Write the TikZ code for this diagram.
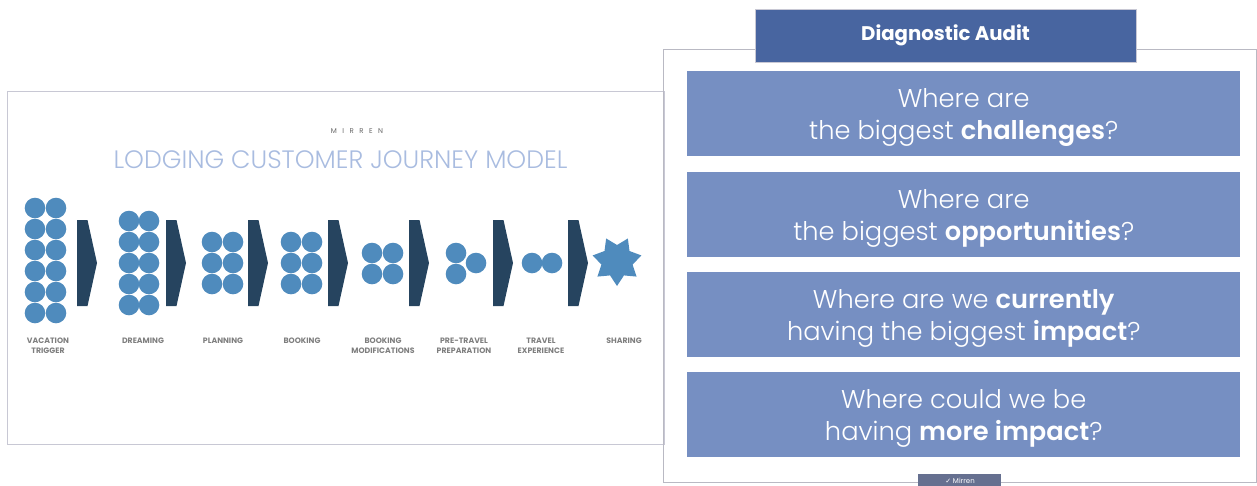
\documentclass[tikz,border=0pt]{standalone}
\usepackage{fontspec}
\setmainfont{Poppins}
\IfFontExistsTF{Poppins Light}
  {\newfontfamily\lightfont{Poppins Light}[BoldFont=Poppins SemiBold]}
  {\newfontfamily\lightfont{Poppins}}
\newfontfamily\symfont{DejaVu Sans}
\definecolor{dotblue}{HTML}{4F8BBD}
\definecolor{chevron}{HTML}{26445F}
\definecolor{titleblue}{HTML}{A9BCE0}
\definecolor{labelgray}{HTML}{7E7E7E}
\definecolor{framegray}{HTML}{C8C8D4}
\definecolor{headblue}{HTML}{4865A0}
\definecolor{qblue}{HTML}{768FC2}
\definecolor{tabgray}{HTML}{667090}
\tikzset{
  dot/.style={circle,fill=dotblue,inner sep=0pt,minimum size=20.6pt},
  stagelabel/.style={font=\fontsize{7.8}{10}\selectfont\bfseries,text=labelgray,align=center,anchor=north},
  qbox/.style={fill=qblue,minimum width=553pt,minimum height=85pt,anchor=north west,inner sep=0pt},
  qtext/.style={text=white,align=center,font=\lightfont\fontsize{25.7}{32}\selectfont,yshift=-4pt},
}
\newcommand{\chev}[1]{%
  \fill[chevron] (#1,220) -- ++(10.5,0) -- ++(9.5,43) -- ++(-9.5,43) -- ++(-10.5,0) -- cycle;}
\begin{document}
\begin{tikzpicture}[x=1pt,y=-1pt]
\useasboundingbox (0,0) rectangle (1257,485);
% ---- journey slide ----
\draw[framegray,line width=0.8pt] (7,91) rectangle (664,444);
\node[font=\fontsize{7}{8}\selectfont,text=labelgray!80!black] (brand) at (357,131)
  {M\hspace{5.5pt}I\hspace{5.5pt}R\hspace{5.5pt}R\hspace{5.5pt}E\hspace{5.5pt}N};
\node[font=\lightfont\fontsize{25.2}{28}\selectfont,text=titleblue] (title) at (340.5,160) {LODGING CUSTOMER JOURNEY MODEL};
% dot groups
\foreach \y in {208,229,250,271,292,313}{\node[dot] at (35,\y) {}; \node[dot] at (56,\y) {};}
\foreach \y in {221,242,263,284,305}{\node[dot] at (129,\y) {}; \node[dot] at (149,\y) {};}
\foreach \y in {242,263,284}{\node[dot] at (212,\y) {}; \node[dot] at (233,\y) {};}
\foreach \y in {242,263,284}{\node[dot] at (291,\y) {}; \node[dot] at (312,\y) {};}
\foreach \y in {253,274}{\node[dot] at (372,\y) {}; \node[dot] at (393,\y) {};}
\node[dot] at (456,253) {}; \node[dot] at (456,274) {}; \node[dot] at (476,263) {};
\node[dot] at (532,263) {}; \node[dot] at (552,263) {};
% seven-pointed star
\begin{scope}[shift={(617,261)}]
\fill[dotblue] (90:25) \foreach \i in {1,...,13}{ -- ({90+\i*360/14}:{ifthenelse(mod(\i,2)==1,16,25)}) } -- cycle;
\end{scope}
% chevrons
\foreach \x in {77,166,248,328,409,493,568}{\chev{\x}}
% stage labels
\node[stagelabel] (l1) at (48,334) {VACATION\\TRIGGER};
\node[stagelabel] (l2) at (143,334) {DREAMING};
\node[stagelabel] (l3) at (223,334) {PLANNING};
\node[stagelabel] (l4) at (302,334) {BOOKING};
\node[stagelabel] (l5) at (383,334) {BOOKING\\MODIFICATIONS};
\node[stagelabel] (l6) at (464,334) {PRE-TRAVEL\\PREPARATION};
\node[stagelabel] (l7) at (541,334) {TRAVEL\\EXPERIENCE};
\node[stagelabel] (l8) at (624,334) {SHARING};
% ---- diagnostic audit panel ----
\draw[framegray!80!gray,line width=0.8pt] (663,49) rectangle (1256,482);
\node[fill=headblue,draw=framegray,line width=0.8pt,minimum width=381pt,minimum height=53pt,inner sep=0pt,
  text=white,font=\fontsize{19.7}{20}\selectfont\bfseries] (head) at (945.5,35.5) {Diagnostic Audit};
\foreach \n/\y in {q1/71,q2/172,q3/272,q4/372}{\node[qbox] (\n) at (687,\y) {};}
\node[qtext] at (q1) {Where are\\the biggest \textbf{challenges}?};
\node[qtext] at (q2) {Where are\\the biggest \textbf{opportunities}?};
\node[qtext] at (q3) {Where are we \textbf{currently}\\having the biggest \textbf{impact}?};
\node[qtext] at (q4) {Where could we be\\having \textbf{more impact}?};
\fill[tabgray] (918,474) rectangle (1001,486);
\node[text=white,font=\fontsize{7}{8}\selectfont,anchor=north] (tab) at (960,475) {{\symfont ✓}\ Mirren};
\end{tikzpicture}
\end{document}
